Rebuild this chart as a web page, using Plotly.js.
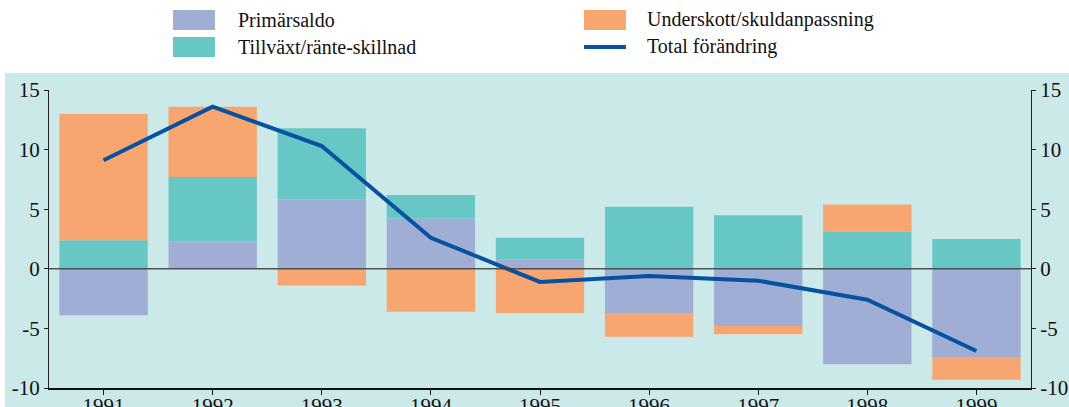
<!DOCTYPE html>
<html>
<head>
<meta charset="utf-8">
<script src="https://cdn.plot.ly/plotly-3.0.1.min.js"></script>
<style>html,body{margin:0;padding:0;background:#fff;}#chart{width:1069px;height:407px;}</style>
</head>
<body>
<div id="chart"></div>
<script>
var years = ['1991','1992','1993','1994','1995','1996','1997','1998','1999'];
var primarsaldo = [-3.9, 2.3, 5.8, 4.2, 0.8, -3.7, -4.8, -8.0, -7.4];
var tillvaxt = [2.4, 5.4, 6.0, 2.0, 1.8, 5.2, 4.5, 3.1, 2.5];
var underskott = [10.6, 5.9, -1.4, -3.6, -3.7, -2.0, -0.7, 2.3, -1.9];
var total = [9.1, 13.6, 10.3, 2.6, -1.1, -0.6, -1.0, -2.6, -6.9];
var seriesNames = ['Primärsaldo', 'Tillväxt/ränte-skillnad', 'Underskott/skuldanpassning', 'Total förändring'];
var yTicks = [-10, -5, 0, 5, 10, 15];

var cLav = '#a0aed6', cTeal = '#67c7c4', cOr = '#f7a66f', cLine = '#0652a0', cBg = '#cce9e9';
var font = 'Liberation Serif';

var traces = [
  {type:'bar', x:years, y:primarsaldo, name:seriesNames[0], marker:{color:cLav}, showlegend:false, hoverinfo:'y'},
  {type:'bar', x:years, y:tillvaxt, name:seriesNames[1], marker:{color:cTeal}, showlegend:false, hoverinfo:'y'},
  {type:'bar', x:years, y:underskott, name:seriesNames[2], marker:{color:cOr}, showlegend:false, hoverinfo:'y'},
  {type:'scatter', mode:'lines', x:years, y:total, name:seriesNames[3], yaxis:'y2', line:{color:cLine, width:4}, showlegend:false}
];

// manual legend geometry (paper coordinates)
var rowY = [1.2349, 1.1443];
var swH = 0.0336;
var colX = [0.1263, 0.5448];
var swW = 0.0427;
var txtX = [0.1904, 0.6069];

var shapes = [
  {type:'rect', xref:'paper', yref:'paper', x0:-0.0448, x1:1.1, y0:-0.3, y1:1.057, fillcolor:cBg, line:{width:0}, layer:'below'},
  {type:'line', xref:'paper', yref:'y', x0:0, x1:1, y0:0, y1:0, line:{color:'rgba(60,60,60,0.85)', width:1.5}, layer:'above'},
  {type:'rect', xref:'paper', yref:'paper', x0:colX[0], x1:colX[0]+swW, y0:rowY[0]-swH, y1:rowY[0]+swH, fillcolor:cLav, line:{width:0}},
  {type:'rect', xref:'paper', yref:'paper', x0:colX[0], x1:colX[0]+swW, y0:rowY[1]-swH, y1:rowY[1]+swH, fillcolor:cTeal, line:{width:0}},
  {type:'rect', xref:'paper', yref:'paper', x0:colX[1], x1:colX[1]+swW, y0:rowY[0]-swH, y1:rowY[0]+swH, fillcolor:cOr, line:{width:0}},
  {type:'line', xref:'paper', yref:'paper', x0:colX[1], x1:colX[1]+swW, y0:rowY[1], y1:rowY[1], line:{color:cLine, width:4}}
];

var annotations = [
  {text:seriesNames[0], x:txtX[0], y:rowY[0]},
  {text:seriesNames[1], x:txtX[0], y:rowY[1]},
  {text:seriesNames[2], x:txtX[1], y:rowY[0]},
  {text:seriesNames[3], x:txtX[1], y:rowY[1]}
].map(function(a){
  return {text:a.text, x:a.x, y:a.y, xref:'paper', yref:'paper', xanchor:'left', yanchor:'middle', showarrow:false, font:{family:font, size:20, color:'#111'}};
});

var yaxisBase = {
  range:[-10, 15], tickvals:yTicks, ticktext:yTicks.map(String), showgrid:false, zeroline:false,
  showline:true, linecolor:'#222', linewidth:1, ticks:'outside', ticklen:4, tickcolor:'#222',
  tickfont:{family:font, size:21, color:'#111'}, fixedrange:true
};

var layout = {
  width:1069, height:407,
  font:{family:font},
  margin:{l:49, r:38, t:90, b:19},
  paper_bgcolor:'#ffffff', plot_bgcolor:cBg,
  barmode:'relative', bargap:0.19,
  showlegend:false,
  xaxis:{type:'category', range:[-0.5, 8.5], showgrid:false, zeroline:false, showline:true, linecolor:'#111', linewidth:1.5,
         ticks:'outside', ticklen:5, tickcolor:'#111', ticklabelstandoff:-7, tickfont:{family:font, size:21, color:'#111'}, fixedrange:true},
  yaxis:Object.assign({side:'left'}, yaxisBase),
  yaxis2:Object.assign({side:'right', overlaying:'y'}, yaxisBase),
  shapes:shapes,
  annotations:annotations
};

Plotly.newPlot('chart', traces, layout, {displayModeBar:false, staticPlot:true});
</script>
</body>
</html>
